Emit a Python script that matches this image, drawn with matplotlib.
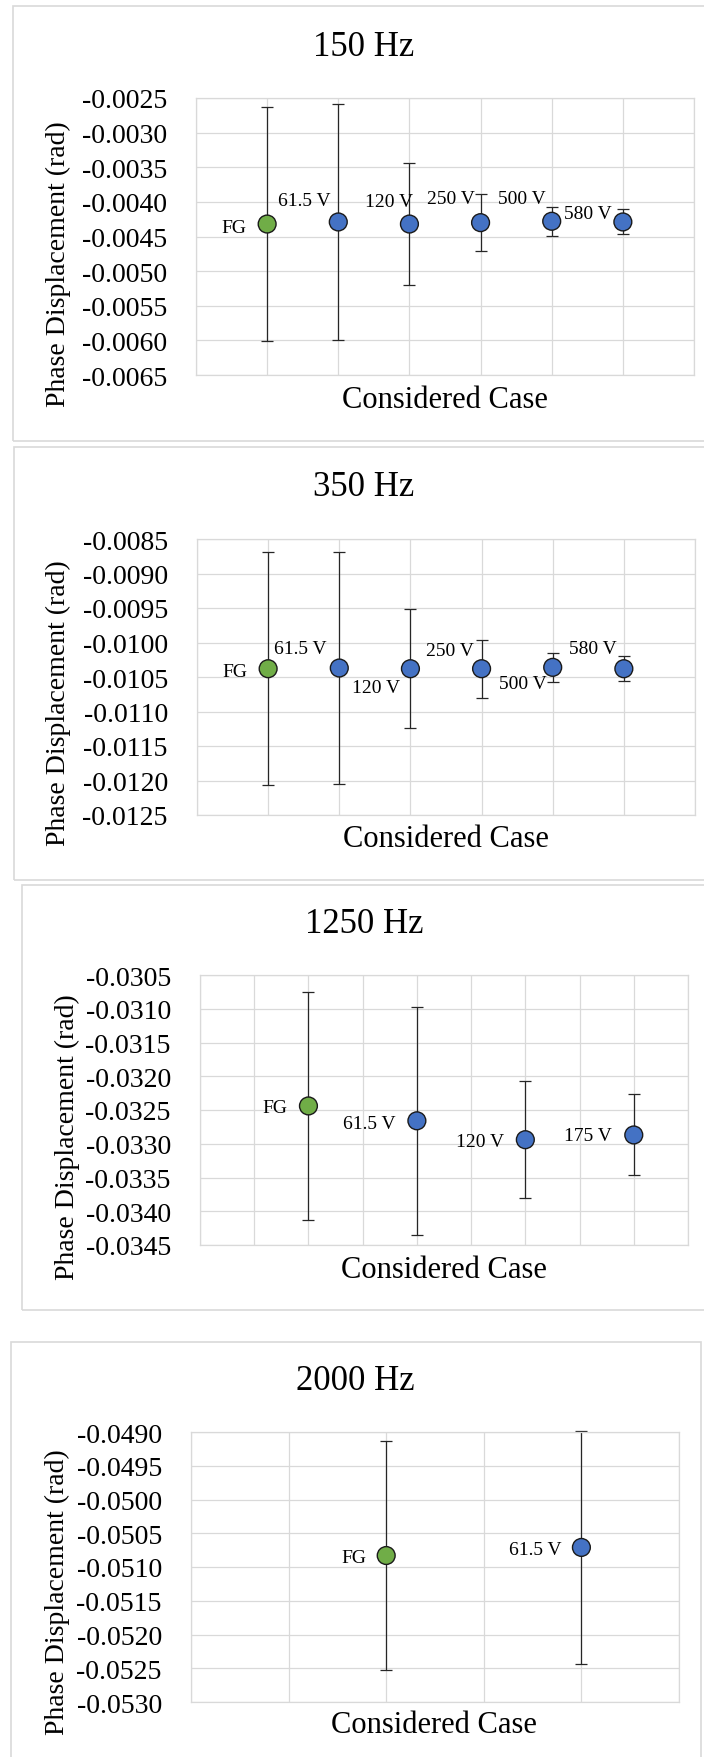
import matplotlib
matplotlib.use("Agg")
import matplotlib.pyplot as plt
from matplotlib.patches import Rectangle
from matplotlib.ticker import MultipleLocator, FormatStrFormatter

W, H = 704, 1758   # output size in px (dpi 100)

# ---- data ----
cases_150 = ["FG", "61.5 V", "120 V", "250 V", "500 V", "580 V"]
phase_150 = [-0.00432, -0.00429, -0.00432, -0.00430, -0.00428, -0.00429]
err_150 = [0.00169, 0.00170, 0.00088, 0.00041, 0.00021, 0.00018]

cases_350 = ["FG", "61.5 V", "120 V", "250 V", "500 V", "580 V"]
phase_350 = [-0.01038, -0.01037, -0.01038, -0.01038, -0.01036, -0.01038]
err_350 = [0.00169, 0.00168, 0.00086, 0.00042, 0.00021, 0.00018]

cases_1250 = ["FG", "61.5 V", "120 V", "175 V"]
phase_1250 = [-0.03244, -0.03266, -0.03294, -0.03287]
err_1250 = [0.00169, 0.00169, 0.00087, 0.00060]

cases_2000 = ["FG", "61.5 V"]
phase_2000 = [-0.05083, -0.05071]
err_2000 = [0.00170, 0.00172]

GREEN = "#70AD47"
BLUE = "#4472C4"
GRID = "#D9D9D9"
SERIF = ["Liberation Serif", "DejaVu Serif"]


def fx(x):
    return x / W


def fy(y):
    return 1 - y / H


def draw_panel(fig, frame, box, title_xy, xlab_xy, ylab_xy, title,
               cases, vals, errs, step, xmax, ylim, offsets):
    # chart-area border
    x0, y0, x1, y1 = frame
    fig.patches.append(Rectangle((fx(x0), fy(y1)), fx(x1 - x0), (y1 - y0) / H,
                                 transform=fig.transFigure, fill=False,
                                 edgecolor=GRID, lw=1.2, clip_on=False))
    l, t, r, b = box
    ax = fig.add_axes([fx(l), fy(b), fx(r - l), (b - t) / H])
    xs = [step * (i + 1) for i in range(len(cases))]
    ax.set_xlim(0, xmax)
    ax.set_ylim(*ylim)
    ax.xaxis.set_major_locator(MultipleLocator(1))
    ax.yaxis.set_major_locator(MultipleLocator(0.0005))
    ax.yaxis.set_major_formatter(FormatStrFormatter("%.4f"))
    ax.grid(True, color=GRID, lw=0.9)
    ax.set_axisbelow(True)
    for s in ax.spines.values():
        s.set_edgecolor(GRID)
        s.set_linewidth(0.9)
    ax.tick_params(axis="x", length=0, labelbottom=False)
    ax.tick_params(axis="y", length=0, pad=21, labelsize=20)
    for lab in ax.get_yticklabels():
        lab.set_family(SERIF)

    eb = ax.errorbar(xs, vals, yerr=errs, fmt="none", ecolor="#262626",
                     elinewidth=0.9, capsize=4.3, capthick=0.9, zorder=2)
    for art in eb.lines[1] + eb.lines[2]:
        art.set_clip_on(False)
    colors = [GREEN] + [BLUE] * (len(cases) - 1)
    ax.scatter(xs, vals, s=165, c=colors, edgecolors="#1a1a1a",
               linewidths=1.0, zorder=3)
    for x, v, name, (dx, dy) in zip(xs, vals, cases, offsets):
        ax.annotate(name, (x, v), xytext=(dx, -dy), textcoords="offset pixels",
                    ha="right", va="center", fontsize=14, family=SERIF,
                    zorder=4)

    fig.text(fx(title_xy[0]), fy(title_xy[1]), title, ha="center",
             va="center", fontsize=25, family=SERIF)
    fig.text(fx(xlab_xy[0]), fy(xlab_xy[1]), "Considered Case", ha="center",
             va="center", fontsize=22, family=SERIF)
    fig.text(fx(ylab_xy[0]), fy(ylab_xy[1]), "Phase Displacement (rad)",
             ha="center", va="center", rotation=90, fontsize=20, family=SERIF)
    return ax


fig = plt.figure(figsize=(W / 100, H / 100), dpi=100)
fig.patch.set_facecolor("white")

draw_panel(fig, (13, 7, 720, 442), (196, 99, 694, 376), (364, 47), (445, 400),
           (58, 264), "150 Hz", cases_150, phase_150, err_150, 1, 7,
           (-0.0065, -0.0025),
           [(-21, 3), (-8, -21), (4, -23), (-6, -24), (-6, -23), (-11, -8)])

draw_panel(fig, (14, 448, 720, 881), (197, 540, 695, 816), (364, 488),
           (446, 840), (58, 703), "350 Hz", cases_350, phase_350, err_350,
           1, 7, (-0.0125, -0.0085),
           [(-21, 3), (-13, -20), (-10, 19), (-8, -18), (-6, 16), (-7, -20)])

draw_panel(fig, (22, 886, 720, 1311), (200, 976, 688, 1246), (364, 925),
           (444, 1270), (67, 1137), "1250 Hz", cases_1250, phase_1250,
           err_1250, 2, 9, (-0.0345, -0.0305),
           [(-21, 2), (-21, 3), (-21, 2), (-22, 1)])

draw_panel(fig, (11, 1343, 701, 1770), (191, 1433, 679, 1703), (355, 1382),
           (434, 1726), (57, 1592), "2000 Hz", cases_2000, phase_2000,
           err_2000, 2, 5, (-0.0530, -0.0490),
           [(-20, 2), (-20, 2)])

fig.savefig("out.png", dpi=100)
